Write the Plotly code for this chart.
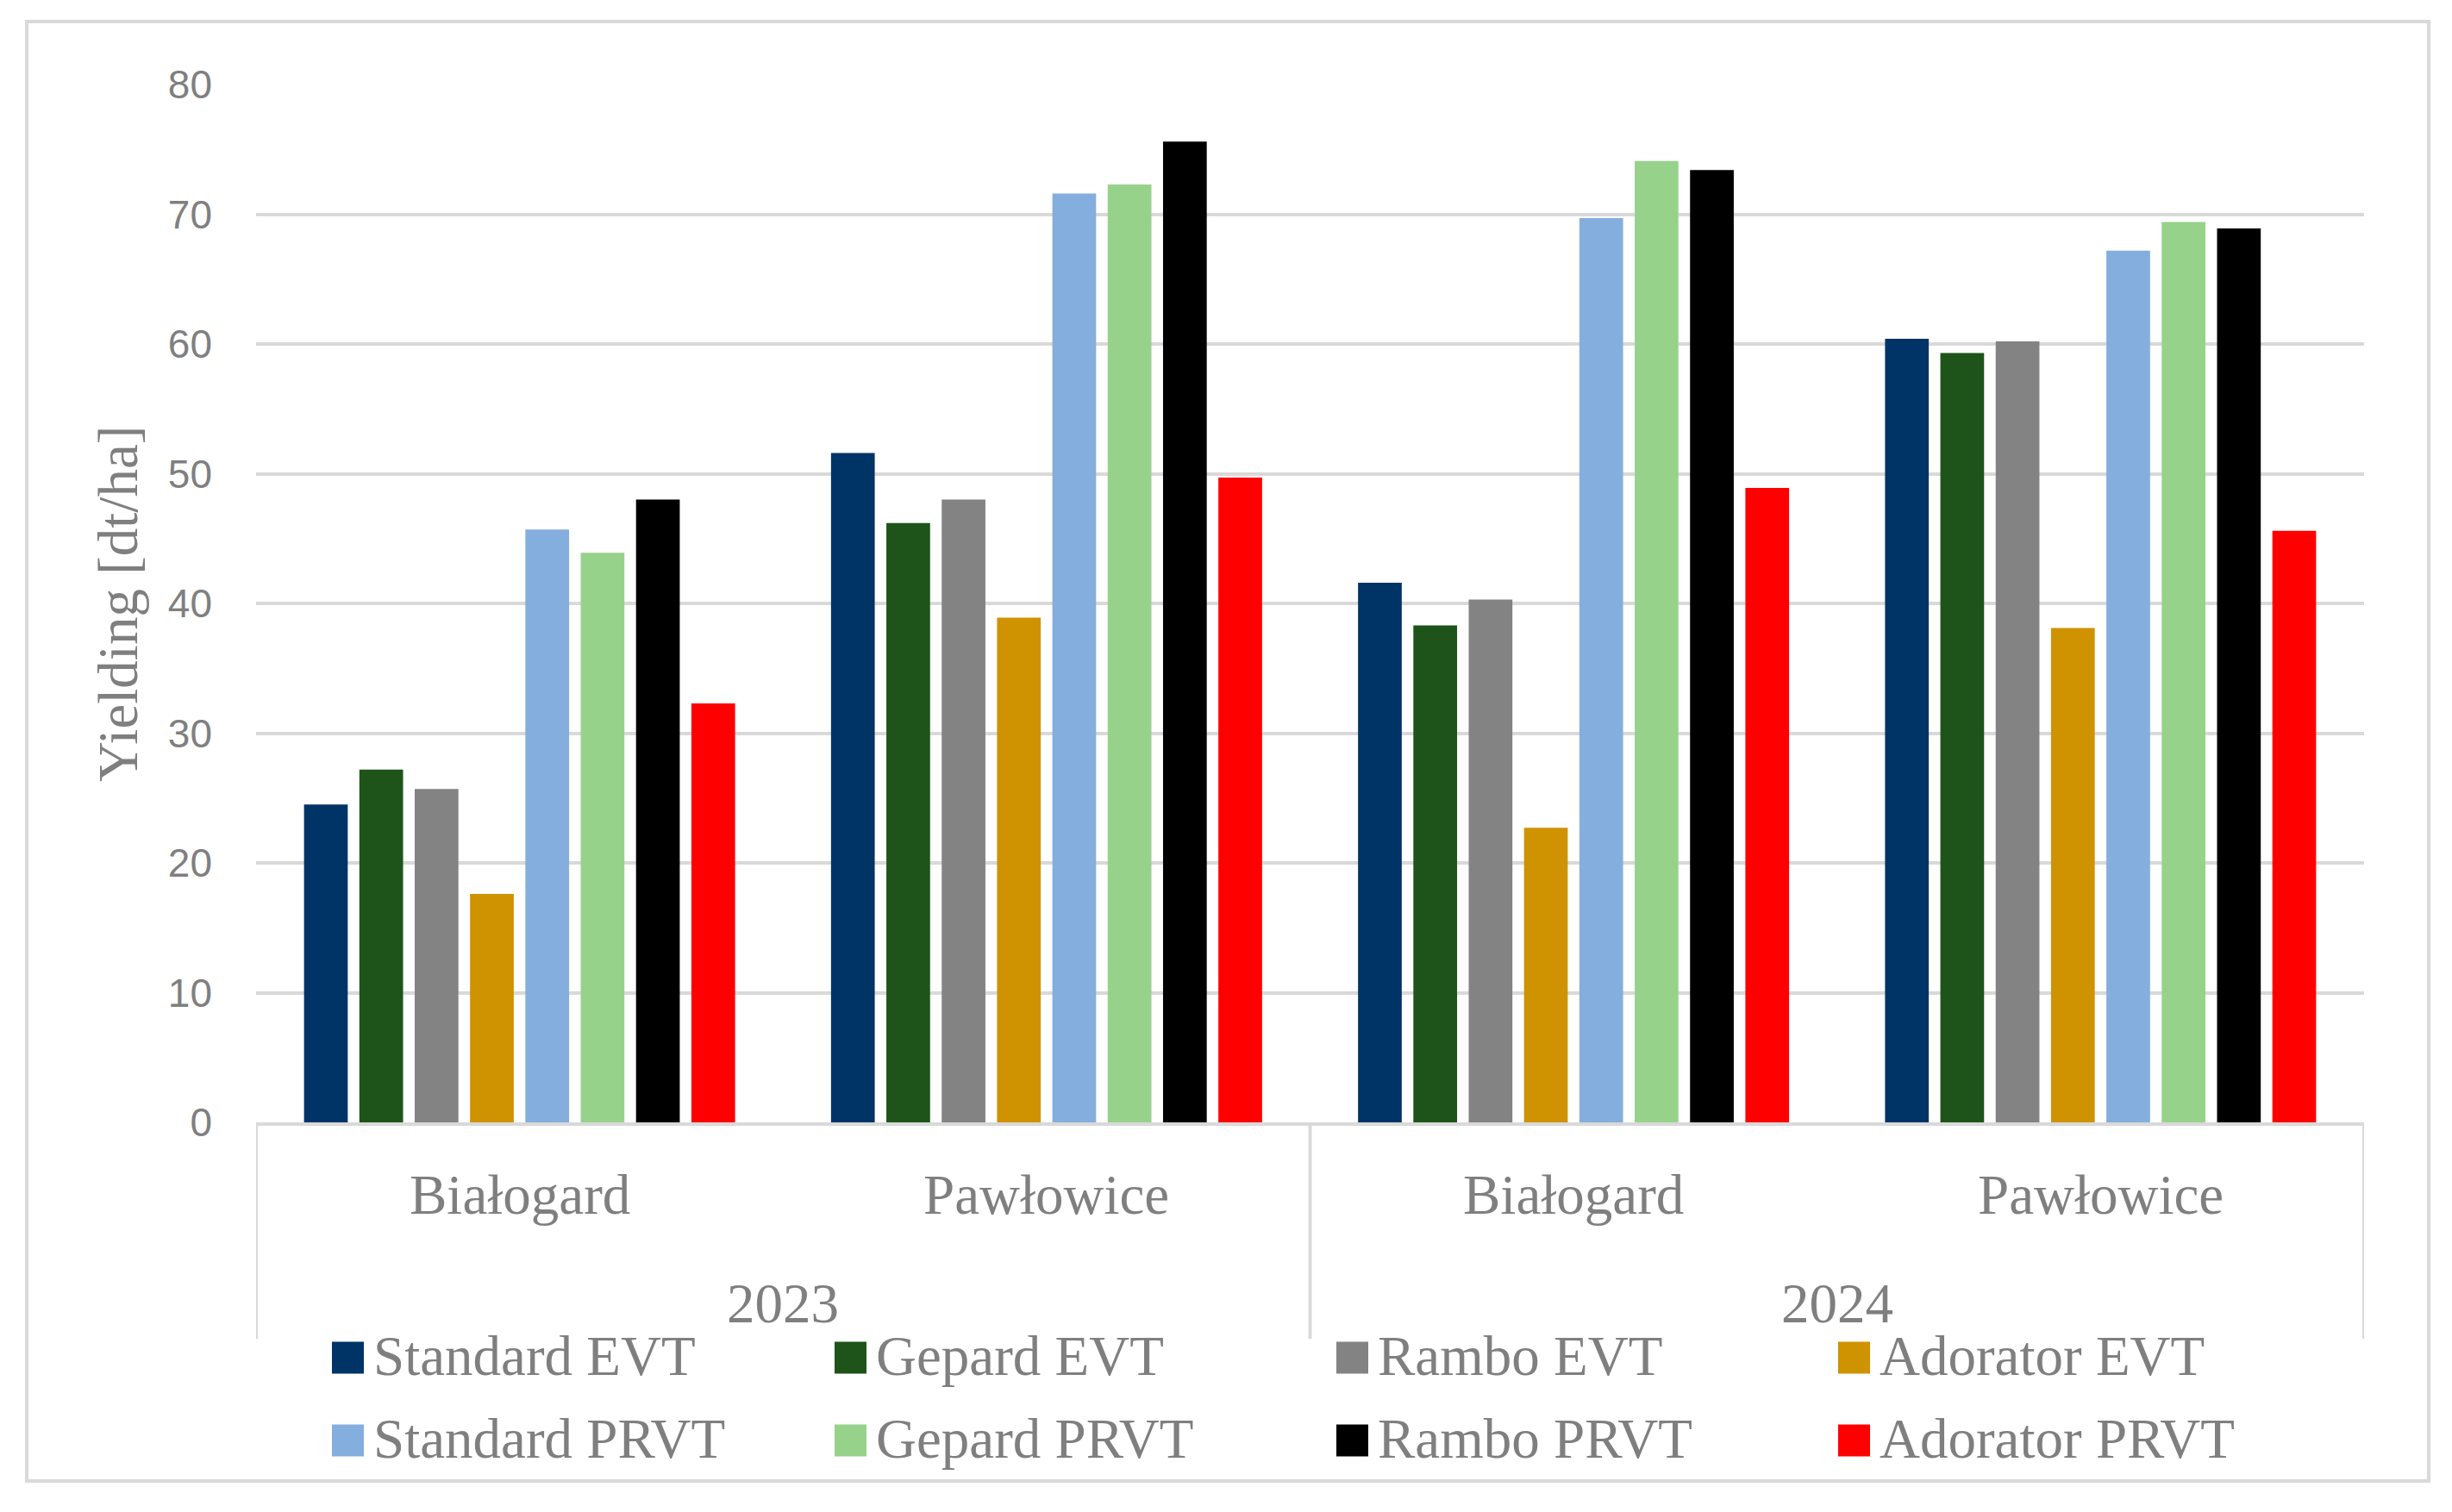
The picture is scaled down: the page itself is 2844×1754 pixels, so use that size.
import plotly.graph_objects as go

# ---------------- data ----------------
years = ["2023", "2023", "2024", "2024"]
locations = ["Białogard", "Pawłowice", "Białogard", "Pawłowice"]
series_names = ["Standard EVT", "Gepard EVT", "Rambo EVT", "Adorator EVT",
                "Standard PRVT", "Gepard PRVT", "Rambo PRVT", "Adorator PRVT"]
standard_evt = [24.5, 51.6, 41.6, 60.4]
gepard_evt = [27.2, 46.2, 38.3, 59.3]
rambo_evt = [25.7, 48.0, 40.3, 60.2]
adorator_evt = [17.6, 38.9, 22.7, 38.1]
standard_prvt = [45.7, 71.6, 69.7, 67.2]
gepard_prvt = [43.9, 72.3, 74.1, 69.4]
rambo_prvt = [48.0, 75.6, 73.4, 68.9]
adorator_prvt = [32.3, 49.7, 48.9, 45.6]
series_values = [standard_evt, gepard_evt, rambo_evt, adorator_evt,
                 standard_prvt, gepard_prvt, rambo_prvt, adorator_prvt]
y_ticks = [0, 10, 20, 30, 40, 50, 60, 70, 80]
y_title = "Yielding [dt/ha]"

# ---------------- styles ----------------
colors = ["#003366", "#1e5419", "#838383", "#cf9200",
          "#84aede", "#97d28b", "#000000", "#ff0000"]
GRID = "#d9d9d9"
TXT = "#7f7f7f"
SERIF = "Liberation Serif, Times New Roman, serif"
SANS = "Liberation Sans, Arial, sans-serif"
FS = 65

W, H = 2844, 1754
OFF = 8  # page body margin offset
# target screen-pixel positions of the plot area
SL, SR, ST, SB = 297, 2742, 98, 1302
ML = SL - OFF
MT = ST - OFF
PW = SR - SL
PH = SB - ST
MR = W - ML - PW
MB = H - MT - PH


def px_x(p):
    return (p - SL) / PW


def px_y(p):
    return (SB - p) / PH


keys = [f"{y} | {l}" for y, l in zip(years, locations)]

fig = go.Figure()
for name, vals, c in zip(series_names, series_values, colors):
    fig.add_trace(go.Bar(x=keys, y=vals, name=name, marker_color=c,
                         marker_line_width=0, showlegend=False))

shapes = []
annotations = []

# inner category labels
for i, loc in enumerate(locations):
    annotations.append(dict(x=i, y=px_y(1386), xref="x", yref="paper",
                            text=loc, showarrow=False, xanchor="center",
                            yanchor="middle",
                            font=dict(family=SERIF, size=FS, color=TXT)))

# outer (year) labels and dividers
uniq_years = []
for y in years:
    if y not in uniq_years:
        uniq_years.append(y)
bounds = set()
for yr in uniq_years:
    idx = [i for i, y in enumerate(years) if y == yr]
    annotations.append(dict(x=sum(idx) / len(idx), y=px_y(1512), xref="x",
                            yref="paper", text=yr, showarrow=False,
                            xanchor="center", yanchor="middle",
                            font=dict(family=SERIF, size=FS, color=TXT)))
    bounds.add(min(idx) - 0.5)
    bounds.add(max(idx) + 0.5)
for b in sorted(bounds):
    shapes.append(dict(type="line", xref="x", yref="paper", x0=b, x1=b,
                       y0=0, y1=px_y(1553), line=dict(color=GRID, width=4)))

# y-axis title
annotations.append(dict(x=px_x(137), y=0.5, xref="paper", yref="paper",
                        text=y_title, showarrow=False, textangle=-90,
                        xanchor="center", yanchor="middle",
                        font=dict(family=SERIF, size=FS, color=TXT)))

# legend (4 columns x 2 rows)
col_x = [385, 968, 1550, 2132]
row_y = [1575, 1671]
sq = 37
for k, (name, c) in enumerate(zip(series_names, colors)):
    cx = col_x[k % 4]
    cy = row_y[k // 4]
    shapes.append(dict(type="rect", xref="paper", yref="paper",
                       x0=px_x(cx), x1=px_x(cx + sq),
                       y0=px_y(cy + sq / 2), y1=px_y(cy - sq / 2),
                       fillcolor=c, line=dict(width=0)))
    annotations.append(dict(x=px_x(cx + sq + 9), y=px_y(cy - 2),
                            xref="paper", yref="paper", text=name,
                            showarrow=False, xanchor="left", yanchor="middle",
                            font=dict(family=SERIF, size=FS, color=TXT)))

# outer chart border
shapes.append(dict(type="rect", xref="paper", yref="paper",
                   x0=px_x(31), x1=px_x(2817), y0=px_y(1718), y1=px_y(25),
                   line=dict(color=GRID, width=4), fillcolor="rgba(0,0,0,0)",
                   layer="below"))

fig.update_layout(
    width=W, height=H,
    margin=dict(l=ML, r=MR, t=MT, b=MB),
    paper_bgcolor="white", plot_bgcolor="white",
    barmode="group", bargap=0.16, bargroupgap=0.21,
    showlegend=False,
    xaxis=dict(type="category", categoryorder="array", categoryarray=keys,
               range=[-0.5, len(keys) - 0.5], showticklabels=False,
               showgrid=False, zeroline=False, showline=True,
               linecolor=GRID, linewidth=4, ticks=""),
    yaxis=dict(range=[0, 80], tickvals=y_ticks, showgrid=True,
               gridcolor=GRID, gridwidth=4, zeroline=False, showline=False,
               ticks="", ticklabelstandoff=50,
               tickfont=dict(family=SANS, size=46, color=TXT)),
    shapes=shapes,
    annotations=annotations,
)

fig.write_html("out.html")
